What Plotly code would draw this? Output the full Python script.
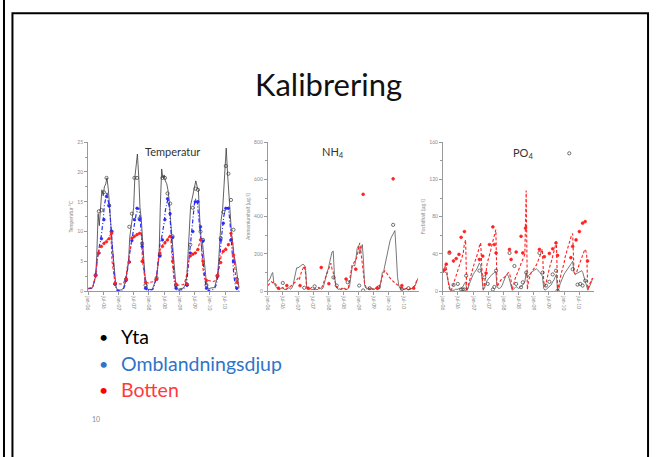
import plotly.graph_objects as go

W, H = 657, 457

# ---------------- data ----------------
years = [2006, 2007, 2008, 2009, 2010]
dates = [f"{y}-{m:02d}-{d:02d}" for y in years for m in range(1, 13) for d in (1, 15)]

tick_dates = ["2006-01-01", "2006-07-01", "2007-01-01", "2007-07-01", "2008-01-01",
              "2008-07-01", "2009-01-01", "2009-07-01", "2010-01-01", "2010-07-01"]
tick_labels = ["jan-06", "jul-06", "jan-07", "jul-07", "jan-08",
               "jul-08", "jan-09", "jul-09", "jan-10", "jul-10"]

# Temperature model (Yta / Omblandningsdjup / Botten)
temp_surface = [
    0.4, 0.4, 0.4, 0.5, 0.8, 1.5, 2.5, 6, 13, 11, 15, 17, 16, 17.5, 18, 19, 17, 13, 11, 8, 5, 2.5, 0.8, 0.3,
    0.2, 0.2, 0.2, 0.3, 0.6, 1.2, 2, 3.5, 5, 9, 11, 12.5, 14, 19, 22, 23, 19, 14, 12, 8, 5, 2.5, 1, 0.3,
    0.3, 0.3, 0.3, 0.5, 1, 1.5, 2.2, 4, 6, 14, 20.5, 19, 19.5, 18.5, 18, 17, 15, 12, 9, 6, 3.5, 1.5, 0.5, 0.3,
    0.4, 0.4, 0.4, 0.5, 0.8, 1.2, 3, 7.5, 11, 14.5, 15.5, 16.5, 17, 18.5, 17.5, 17, 12, 9, 8.5, 6, 4, 2, 0.8, 0.3,
    0.5, 0.5, 0.5, 0.6, 0.8, 1.5, 2.5, 5, 8.5, 12, 13.5, 17, 21, 24, 19.5, 16, 13, 10, 8, 6, 5, 3.5, 2, 0.5]
temp_mix = [
    0.4, 0.4, 0.4, 0.5, 0.8, 1.5, 2.5, 4.5, 6.5, 7.5, 8.5, 10, 12, 14.5, 16, 16.5, 15, 14, 11, 8, 5, 2, 0.5, 0.1,
    0.1, 0, 0, 0, 0.3, 0.8, 1.8, 3.7, 4.8, 6.5, 8, 9, 10, 12, 13, 13.5, 14, 12.5, 10, 7.5, 4, 1.5, 0.3, 0,
    0.3, 0.2, 0.2, 0.3, 0.8, 1.5, 2.5, 4.5, 7, 8.5, 9, 10, 11.5, 13.5, 15, 15.5, 14, 11, 8, 4, 1.5, 0.5, 0.1, 0,
    0.2, 0.2, 0.2, 0.3, 0.6, 1, 2, 4, 6.5, 8.5, 11, 13.5, 15, 15.5, 15, 13, 10.5, 8.5, 6.5, 4, 2, 0.8, 0.2, 0,
    0.2, 0.2, 0.2, 0.3, 0.6, 1, 2, 3.5, 6, 8.5, 11, 12.5, 13.5, 14, 14, 13.5, 11, 8, 5, 2.5, 1, 0.3, 0, 0]
temp_bottom = [
    0.5, 0.5, 0.5, 0.6, 0.9, 1.6, 2.6, 4.5, 6.5, 7, 7.5, 7.8, 8, 8.2, 8.4, 8.5, 8.8, 9.2, 9.6, 5, 3, 1.8, 1.4, 1.3,
    1.3, 1.2, 1.2, 1.2, 1.3, 1.8, 2.5, 4, 5, 6.5, 8, 8.8, 9, 9.2, 9.3, 9.4, 9.5, 9.6, 9.7, 5, 3, 2, 1.5, 1.4,
    1.3, 1.5, 1.5, 1.5, 1.6, 2, 2.5, 4, 6.3, 7, 7.5, 7.8, 8, 8.3, 8.6, 8.9, 9.2, 9.4, 6, 3.5, 2, 1.3, 1, 1,
    1, 1, 1, 1.1, 1.3, 2, 3, 4.5, 5.8, 6, 6.2, 6.3, 6.4, 6.6, 7, 7.5, 8.2, 8.6, 5, 3, 2, 1.8, 1.8, 1.8,
    1.8, 1.7, 1.6, 1.6, 1.7, 2, 2.6, 3.5, 4.8, 5.9, 6.5, 6.8, 7, 7.3, 7.6, 7.9, 8.5, 9.5, 8, 5, 3, 1.8, 1, 0.7]

# Temperature observations
temp_obs_dates = [f"{y}-{md}" for y in years
                  for md in ("04-01", "05-10", "06-10", "07-10", "08-10", "09-10", "10-10", "11-20")]
temp_obs_surface = [2.7, 13.4, 13.6, 16.6, 19, 14.4, 10, 1.2,
                    2, 10.8, 13, 19, 19, 12.2, 8, 1,
                    2.2, 6, 19, 19, 16.4, 14.7, 9.2, 1,
                    1.1, 7.8, 14, 17.2, 17, 10, 8.6, 1,
                    2.6, 8.9, 13.3, 21, 19.7, 15.3, 10.3, 2]
temp_obs_mix = [2.6, 6.4, 8.8, 12, 15.9, 14.3, 10, 1.2,
                1.8, 4.9, 8.5, 12, 13.9, 12, 7.5, 0.5,
                2, 5.9, 8.6, 12, 15.5, 13, 9, 0.5,
                1, 6.4, 10, 15, 15, 10.8, 8.4, 0.5,
                2.5, 8.6, 11.4, 13.9, 13.9, 8.6, 5, 0.5]
temp_obs_bottom = [2.6, 6.4, 7.5, 8, 8.3, 8.8, 9.7, 1.3,
                   2, 4.9, 8.9, 9.2, 9.5, 9.7, 5, 1.5,
                   2, 6.4, 7.5, 8.1, 8.6, 9.2, 5, 1.2,
                   1.2, 5.9, 6.2, 6.4, 7, 8.6, 5, 1.8,
                   2.6, 4.8, 6.7, 7, 7.8, 9.7, 6, 1.5]

# NH4 model
nh4_surface = [
    50, 60, 70, 90, 100, 45, 30, 20, 15, 10, 12, 15, 20, 10, 8, 10, 15, 20, 10, 15, 30, 60, 110, 125,
    125, 130, 140, 140, 145, 140, 130, 25, 15, 10, 12, 8, 10, 15, 12, 8, 10, 20, 15, 10, 20, 40, 70, 100,
    120, 150, 190, 210, 215, 90, 30, 15, 10, 12, 8, 10, 15, 12, 8, 10, 15, 30, 80, 130, 140, 135, 180, 230,
    245, 200, 230, 250, 160, 30, 15, 10, 20, 10, 12, 15, 8, 10, 20, 10, 12, 25, 60, 100, 110, 140, 180, 200,
    240, 270, 290, 305, 320, 325, 200, 80, 30, 15, 10, 12, 8, 10, 15, 8, 10, 12, 10, 15, 20, 30, 50, 65]
nh4_bottom = [
    30, 35, 40, 50, 45, 50, 40, 30, 20, 15, 10, 15, 20, 10, 8, 12, 15, 20, 25, 30, 40, 45, 50, 60,
    70, 60, 90, 110, 120, 135, 100, 20, 15, 10, 15, 20, 10, 8, 12, 15, 20, 15, 10, 20, 40, 60, 80, 100,
    110, 130, 150, 120, 100, 60, 30, 20, 15, 10, 12, 15, 20, 15, 10, 12, 20, 60, 120, 140, 150, 160, 170, 190,
    240, 260, 200, 150, 90, 40, 20, 15, 10, 15, 20, 10, 12, 20, 15, 25, 20, 30, 60, 80, 100, 110, 100, 90,
    80, 70, 60, 55, 50, 40, 35, 30, 25, 20, 15, 12, 10, 12, 15, 10, 8, 12, 15, 20, 25, 35, 55, 70]

nh4_obs_surface_dates = ["2006-07-01", "2007-03-17", "2007-07-20", "2008-03-03", "2008-04-12",
                         "2008-08-22", "2009-01-08", "2009-02-25", "2009-05-15", "2009-09-02",
                         "2010-02-22", "2010-06-07", "2010-08-26"]
nh4_obs_surface = [44, 18, 26, 74, 30, 48, 30, 4, 16, 21, 356, 12, 16]
nh4_obs_bottom_dates = ["2006-05-10", "2006-08-19", "2007-01-25", "2007-05-03", "2007-10-08",
                        "2008-01-08", "2008-08-03", "2008-11-28", "2009-02-25", "2009-08-14",
                        "2010-02-22", "2010-06-07", "2010-10-27"]
nh4_obs_bottom = [16, 30, 30, 16, 127, 40, 65, 118, 520, 16, 603, 30, 16]

# PO4 model
po4_bottom = [
    20, 23, 28, 22, 12, 4, 0, 2, 6, 10, 15, 19, 23, 26, 31, 35, 40, 50, 55, 0, 6, 12, 18, 22,
    26, 30, 34, 38, 42, 48, 52, 25, 2, 6, 20, 28, 34, 38, 44, 50, 56, 62, 66, 5, 8, 10, 12, 13,
    14, 15, 17, 18, 20, 19, 12, 2, 6, 12, 16, 20, 24, 27, 30, 33, 36, 40, 108, 2, 12, 17, 20, 22,
    24, 26, 28, 31, 34, 38, 41, 45, 10, 5, 10, 16, 22, 27, 32, 37, 42, 48, 53, 0, 6, 14, 20, 24,
    30, 37, 42, 48, 53, 57, 60, 62, 22, 18, 20, 24, 28, 32, 36, 40, 43, 45, 40, 2, 6, 10, 13, 14]
po4_surface = [
    20, 21, 20, 19, 12, 5, 1, 1, 1, 1, 2, 2, 2, 3, 3, 4, 5, 8, 10, 1, 3, 8, 12, 15,
    18, 20, 22, 24, 27, 30, 28, 12, 1, 3, 8, 11, 13, 15, 16, 18, 19, 20, 21, 5, 3, 3, 4, 6,
    10, 14, 17, 18, 16, 12, 6, 1, 2, 4, 5, 4, 3, 4, 5, 6, 8, 10, 20, 14, 17, 19, 20, 21,
    22, 23, 24, 23, 22, 20, 18, 16, 3, 1, 2, 3, 4, 5, 7, 10, 12, 15, 18, 0, 3, 8, 12, 15,
    18, 20, 22, 24, 26, 28, 30, 32, 20, 18, 19, 20, 20, 21, 22, 20, 15, 10, 5, 1, 4, 8, 12, 14]

po4_obs_surface_dates = ["2006-03-20", "2006-05-08", "2006-06-29", "2006-08-08", "2006-08-29",
                         "2006-09-17", "2006-10-08", "2007-03-17", "2007-05-15", "2007-06-25",
                         "2007-08-26", "2007-09-13", "2007-10-04", "2008-03-14", "2008-05-12",
                         "2008-06-02", "2008-07-31", "2008-08-21", "2008-10-01", "2009-03-10",
                         "2009-04-18", "2009-05-28", "2009-07-08", "2009-08-17", "2009-09-26",
                         "2009-10-15", "2010-03-05", "2010-04-15", "2010-06-13", "2010-07-16",
                         "2010-08-13", "2010-09-13"]
po4_obs_surface = [41, 6.7, 7.8, 1.8, 1.8, 1.8, 16.6, 22, 14.8, 7.8, 1.8, 4.5, 22, 41, 27, 7.8,
                   4.2, 9.5, 20, 41, 20, 6, 10, 18, 22, 0.5, 148, 23.6, 7, 7.8, 6, 11.3]
po4_obs_bottom_dates = ["2006-01-20", "2006-02-10", "2006-03-20", "2006-05-08", "2006-06-10",
                        "2006-07-13", "2006-08-08", "2006-09-17", "2007-03-17", "2007-04-26",
                        "2007-06-05", "2007-07-16", "2007-08-26", "2007-09-13", "2007-10-04",
                        "2008-03-14", "2008-04-02", "2008-06-02", "2008-07-31", "2008-08-21",
                        "2008-09-23", "2009-03-10", "2009-05-08", "2009-07-08", "2009-08-17",
                        "2009-09-26", "2009-10-15", "2010-03-25", "2010-04-15", "2010-05-26",
                        "2010-07-05", "2010-08-13", "2010-09-13", "2010-10-12"]
po4_obs_bottom = [23, 29, 42, 32.4, 35, 39.5, 57.8, 64, 34, 37.7, 19.4, 50, 69, 50, 41, 44.8, 34,
                  42, 58.9, 41, 67.7, 44.8, 37, 40.5, 45.5, 51.8, 38.4, 36, 48, 55, 64, 73, 74.7, 32.4]

panel_titles = ["Temperatur", "NH<sub>4</sub>", "PO<sub>4</sub>"]
y_titles = ["Temperatur °C", "Ammoniumhalt (µg/l)", "Fosfathalt (µg/l)"]
y_ranges = [[0, 25], [0, 800], [0, 160]]
y_dtick = [5, 200, 40]
bullet_texts = ["Yta", "Omblandningsdjup", "Botten"]

# ---------------- styling ----------------
C_BLACK = "#3a3a3a"
C_BLUE = "#2a2aff"
C_RED = "#ff2020"
FONT = "Lato"
DASH_RED = "3px,2px"
DASH_BLUE = "4px,2px,1px,2px"


def px(x):
    return x / W


def py(y):
    return (H - y) / H


fig = go.Figure()


def line(x, y, color, dash, width, ax):
    fig.add_trace(go.Scatter(x=x, y=y, mode="lines", xaxis=ax[0], yaxis=ax[1],
                             line=dict(color=color, dash=dash, width=width), showlegend=False,
                             hoverinfo="skip"))


def pts(x, y, color, symbol, size, ax):
    fig.add_trace(go.Scatter(x=x, y=y, mode="markers", xaxis=ax[0], yaxis=ax[1],
                             marker=dict(color=color, symbol=symbol, size=size,
                                         line=dict(color=color, width=0.7)),
                             showlegend=False, hoverinfo="skip"))


a1, a2, a3 = ("x", "y"), ("x2", "y2"), ("x3", "y3")

# Panel 1
line(dates, temp_surface, C_BLACK, "solid", 0.8, a1)
line(dates, temp_mix, C_BLUE, DASH_BLUE, 1.2, a1)
line(dates, temp_bottom, C_RED, DASH_RED, 1.1, a1)
pts(temp_obs_dates, temp_obs_surface, C_BLACK, "circle-open", 3.2, a1)
pts(temp_obs_dates, temp_obs_mix, C_BLUE, "circle", 2.6, a1)
pts(temp_obs_dates, temp_obs_bottom, C_RED, "circle", 2.6, a1)

# Panel 2
line(dates, nh4_surface, "#555555", "solid", 0.8, a2)
line(dates, nh4_bottom, C_RED, DASH_RED, 1.1, a2)
pts(nh4_obs_surface_dates, nh4_obs_surface, C_BLACK, "circle-open", 3.2, a2)
pts(nh4_obs_bottom_dates, nh4_obs_bottom, C_RED, "circle", 2.8, a2)

# Panel 3
line(dates, po4_surface, "#555555", "solid", 0.8, a3)
line(dates, po4_bottom, C_RED, DASH_RED, 1.1, a3)
pts(po4_obs_surface_dates, po4_obs_surface, C_BLACK, "circle-open", 3.2, a3)
pts(po4_obs_bottom_dates, po4_obs_bottom, C_RED, "circle", 2.8, a3)

x_domains = [[px(85.5), px(238.5)], [px(266), px(418)], [px(442), px(594)]]
y_domain = [py(292), py(141)]
axcol = "#9a9a9a"
layout = dict(width=W, height=H, margin=dict(l=0, r=0, t=0, b=0),
              paper_bgcolor="white", plot_bgcolor="rgba(0,0,0,0)", showlegend=False,
              font=dict(family=FONT))
for i in range(3):
    s = "" if i == 0 else str(i + 1)
    layout["xaxis" + s] = dict(
        domain=x_domains[i], anchor="y" + s, type="date",
        range=["2006-01-01", "2011-01-01"], showgrid=False, zeroline=False,
        showline=True, linecolor=axcol, linewidth=1, ticks="outside", ticklen=3,
        tickcolor=axcol, tickvals=tick_dates, ticktext=tick_labels, tickangle=90,
        tickfont=dict(size=5, color="#8a8a8a"))
    layout["yaxis" + s] = dict(
        domain=y_domain, anchor="x" + s, range=y_ranges[i], dtick=y_dtick[i],
        showgrid=False, zeroline=False, showline=True, linecolor=axcol, linewidth=1,
        ticks="outside", ticklen=3, tickcolor=axcol,
        minor=dict(ticks="outside", ticklen=2, tickcolor=axcol, dtick=y_dtick[i] / 2),
        tickfont=dict(size=5, color="#8a8a8a"),
        title=dict(text=y_titles[i], font=dict(size=5, color="#8a8a8a"), standoff=3))
fig.update_layout(**layout)

ann = []
ann.append(dict(text="Kalibrering", x=px(327), y=py(82), xref="paper", yref="paper",
                showarrow=False, font=dict(size=31, color="#111111", family=FONT),
                xanchor="center", yanchor="middle"))
title_pos = [(170, 150), (332, 151), (522, 152)]
for t, (x, y) in zip(panel_titles, title_pos):
    ann.append(dict(text=t, x=px(x), y=py(y), xref="paper", yref="paper", showarrow=False,
                    font=dict(size=11, color="#333333", family=FONT),
                    xanchor="center", yanchor="middle"))
bullet_colors = ["#000000", "#2f74c8", "#ff3a3a"]
dot_colors = ["#000000", "#2f74c8", "#ff0000"]
bullet_y = [338, 365, 392]
for t, c, dc, y in zip(bullet_texts, bullet_colors, dot_colors, bullet_y):
    ann.append(dict(text="•", x=px(101), y=py(y), xref="paper", yref="paper", showarrow=False,
                    font=dict(size=16, color=dc, family=FONT), xanchor="center", yanchor="middle"))
    ann.append(dict(text=t, x=px(117), y=py(y), xref="paper", yref="paper", showarrow=False,
                    font=dict(size=19.5, color=c, family=FONT), xanchor="left", yanchor="middle"))
ann.append(dict(text="10", x=px(87), y=py(422), xref="paper", yref="paper", showarrow=False,
                font=dict(size=7, color="#8a8a8a", family=FONT), xanchor="left", yanchor="middle"))
fig.update_layout(annotations=ann)

fig.update_layout(shapes=[
    dict(type="rect", xref="paper", yref="paper", x0=px(9.5), x1=px(648), y0=-0.05, y1=py(10.5),
         line=dict(color="black", width=2)),
    dict(type="line", xref="paper", yref="paper", x0=px(1), x1=px(1), y0=-0.05, y1=1.05,
         line=dict(color="black", width=2)),
])

fig.write_html("out.html", config={"displayModeBar": False},
               post_script="document.body.style.margin='0px';document.body.style.overflow='hidden';")
